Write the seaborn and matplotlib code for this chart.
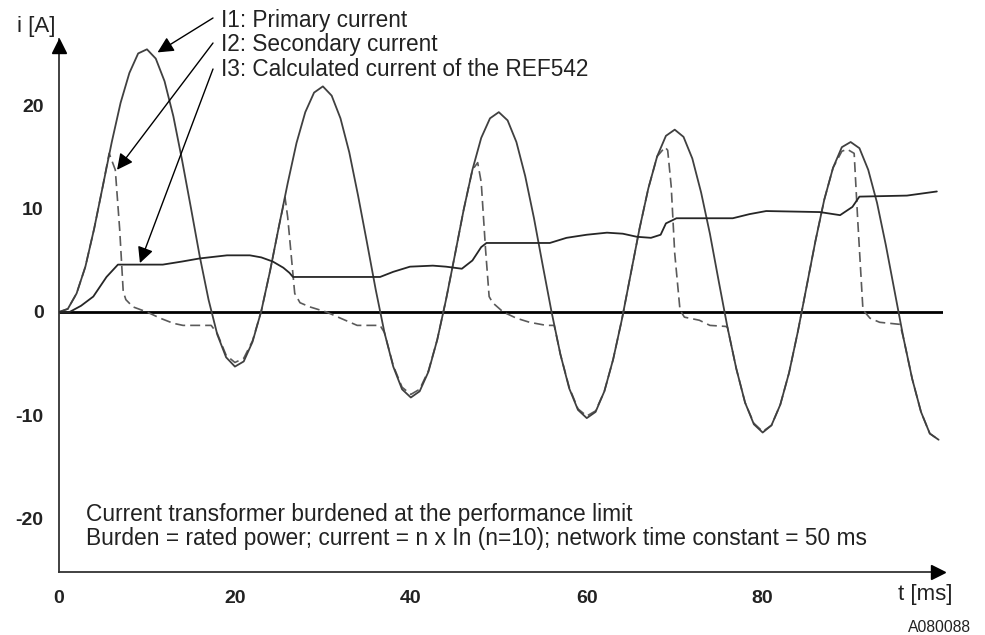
import matplotlib
matplotlib.use("Agg")
import matplotlib.pyplot as plt
import seaborn as sns
import pandas as pd

# ---------------- data ----------------
t1 = list(range(0, 101))
i1 = [0.0, 0.3, 1.8, 4.4, 8.1, 12.3, 16.5, 20.3, 23.2, 25.1,
      25.5, 24.6, 22.4, 19.0, 14.7, 10.1, 5.4, 1.2, -2.2, -4.4,
      -5.3, -4.8, -2.9, 0.1, 4.0, 8.3, 12.5, 16.4, 19.4, 21.3,
      21.9, 21.0, 18.8, 15.5, 11.3, 6.8, 2.2, -2.0, -5.3, -7.5,
      -8.3, -7.7, -5.8, -2.7, 1.2, 5.5, 9.9, 13.8, 16.9, 18.8,
      19.4, 18.6, 16.5, 13.2, 9.1, 4.5, 0.0, -4.1, -7.4, -9.5,
      -10.3, -9.7, -7.7, -4.6, -0.7, 3.7, 8.1, 12.0, 15.1, 17.1,
      17.7, 17.0, 14.9, 11.6, 7.6, 3.0, -1.5, -5.5, -8.8, -10.9,
      -11.7, -11.0, -9.0, -5.9, -1.9, 2.5, 6.9, 10.9, 14.0, 16.0,
      16.5, 15.9, 13.8, 10.6, 6.5, 2.0, -2.5, -6.5, -9.7, -11.8,
      -12.4]

t2 = [0, 1, 2, 3, 4, 5, 5.7, 6.4, 6.9, 7.3, 7.6, 8.4, 10.0, 11.5, 13.0, 14.1, 17.3,
      18, 19, 20, 21, 22, 23, 24, 25, 25.7, 26.0, 26.8, 27.4, 28.5, 30.4, 32.0, 33.9, 36.5,
      37, 38, 39, 40, 41, 42, 43, 44, 45, 46, 47, 47.6, 48.0, 48.5, 48.9, 49.3, 50.5, 52.0, 53.5, 55.4, 56.3,
      57, 58, 59, 60, 61, 62, 63, 64, 65, 66, 67, 68, 68.9, 69.2, 69.6, 70.0, 70.6, 71.1, 72.8, 74.0, 75.8,
      76, 77, 78, 79, 80, 81, 82, 83, 84, 85, 86, 87, 88, 89, 89.6, 90.4, 90.8, 91.4, 92.2, 93.3, 95.6,
      96, 97, 98, 99, 100]
i2 = [0.0, 0.3, 1.8, 4.4, 8.1, 12.3, 15.4, 13.8, 8.0, 2.0, 1.2, 0.5, 0.0, -0.6, -1.1, -1.3, -1.3,
      -2.1, -4.2, -4.9, -4.5, -2.8, 0.1, 4.0, 8.3, 11.1, 9.2, 1.8, 0.9, 0.5, 0.0, -0.6, -1.3, -1.3,
      -2.0, -5.2, -7.3, -8.0, -7.5, -5.7, -2.7, 1.2, 5.5, 9.9, 13.8, 14.5, 12.6, 6.0, 1.5, 0.9, 0.0, -0.6, -1.0, -1.3, -1.3,
      -4.1, -7.3, -9.4, -10.1, -9.6, -7.7, -4.6, -0.7, 3.7, 8.1, 12.0, 15.1, 16.0, 15.7, 12.2, 5.7, 0.2, -0.5, -0.8, -1.3, -1.4,
      -1.5, -5.5, -8.8, -10.8, -11.6, -11.0, -9.0, -5.9, -1.9, 2.5, 6.9, 10.9, 14.0, 15.6, 15.8, 15.4, 9.0, 0.2, -0.6, -1.0, -1.2,
      -2.5, -6.5, -9.7, -11.8, -12.4]

t3 = [0, 1.2, 2.5, 3.9, 5.4, 6.7, 11.8, 14, 16, 19.1, 21.7, 23, 24.3, 25.5, 26.2, 26.6,
      36.5, 38, 39.9, 42.5, 44, 45.8, 47, 48, 48.6, 55.8, 57.7, 60, 62.3, 64.1, 65.7, 67.3,
      68.4, 69, 70.2, 76.6, 78.5, 80.4, 86.5, 88.8, 90.2, 91, 96.4, 99.8]
i3 = [0, 0, 0.6, 1.5, 3.4, 4.6, 4.6, 4.9, 5.2, 5.5, 5.5, 5.3, 4.9, 4.3, 3.8, 3.4,
      3.4, 3.9, 4.4, 4.5, 4.4, 4.2, 5.0, 6.3, 6.7, 6.7, 7.2, 7.5, 7.7, 7.6, 7.3, 7.2,
      7.5, 8.6, 9.1, 9.1, 9.5, 9.8, 9.7, 9.4, 10.2, 11.2, 11.3, 11.7]

y_ticks = [-20, -10, 0, 10, 20]
x_ticks = [0, 20, 40, 60, 80]

labels = ["I1: Primary current", "I2: Secondary current",
          "I3: Calculated current of the REF542"]
note_lines = ["Current transformer burdened at the performance limit",
              "Burden = rated power; current = n x In (n=10); network time constant = 50 ms"]

df1 = pd.DataFrame({"t": t1, "i": i1})
df2 = pd.DataFrame({"t": t2, "i": i2})
df3 = pd.DataFrame({"t": t3, "i": i3})

# ---------------- style ----------------
sns.set_style("white")
plt.rcParams["font.family"] = ["Liberation Sans", "DejaVu Sans"]

fig = plt.figure(figsize=(9.85, 6.35), dpi=100)
ax = fig.add_axes([59 / 985, 1 - 571.6 / 635, (943 - 59) / 985, (571.6 - 39) / 635])

ax.axhline(0, color="black", lw=2.0, zorder=1)
sns.lineplot(data=df1, x="t", y="i", ax=ax, color="#404040", lw=1.3, sort=False,
             estimator=None, zorder=3)
sns.lineplot(data=df2, x="t", y="i", ax=ax, color="#5a5a5a", lw=1.2, sort=False,
             estimator=None, linestyle=(0, (6, 3)), zorder=2)
sns.lineplot(data=df3, x="t", y="i", ax=ax, color="#262626", lw=1.3, sort=False,
             estimator=None, zorder=4)

ax.set_xlim(0, 100.5)
ax.set_ylim(-25.2, 26.5)
ax.set_xticks(x_ticks)
ax.set_yticks(y_ticks)
ax.set_xticklabels([str(v) for v in x_ticks], fontsize=14, fontweight="bold", color="#222222")
ax.set_yticklabels([str(v) for v in y_ticks], fontsize=14, fontweight="bold", color="#222222")
ax.tick_params(axis="y", length=0, pad=11)
ax.tick_params(axis="x", length=0, pad=13)
ax.set_xlabel("")
ax.set_ylabel("")
for s in ["top", "right"]:
    ax.spines[s].set_visible(False)
for s in ["left", "bottom"]:
    ax.spines[s].set_color("#333333")
    ax.spines[s].set_linewidth(1.3)

# axis arrow heads
ax.plot([0], [25.8], marker="^", color="black", ms=10, clip_on=False, zorder=5)
ax.plot([99.9], [-25.2], marker=">", color="black", ms=10, clip_on=False, zorder=5)

# axis labels
fig.text(17 / 985, 1 - 32 / 635, "i [A]", fontsize=16, color="#222222", ha="left", va="baseline")
fig.text(898 / 985, 1 - 600 / 635, "t [ms]", fontsize=16, color="#222222", ha="left", va="baseline")
fig.text(908 / 985, 1 - 632 / 635, "A080088", fontsize=11.3, color="#222222", ha="left", va="baseline")

# legend-like labels with arrows
text_base = [27, 51, 76]
tips = [(11.2, 25.2), (6.6, 13.8), (9.2, 4.75)]
starts = [(213, 18), (213, 43), (213, 69)]
for lab, yb, tip, st in zip(labels, text_base, tips, starts):
    fig.text(221 / 985, 1 - yb / 635, lab, fontsize=16.3, color="#222222", ha="left", va="baseline")
    ax.annotate("", xy=tip, xycoords="data",
                xytext=(st[0] / 985, 1 - st[1] / 635), textcoords="figure fraction",
                arrowprops=dict(arrowstyle="-|>", color="black", lw=1.0,
                                mutation_scale=24, shrinkA=0, shrinkB=0))

fig.text(86 / 985, 1 - 521 / 635, note_lines[0], fontsize=16.4, color="#222222", ha="left", va="baseline")
fig.text(86 / 985, 1 - 545 / 635, note_lines[1], fontsize=16.4, color="#222222", ha="left", va="baseline")

fig.savefig("out.png", dpi=100)
